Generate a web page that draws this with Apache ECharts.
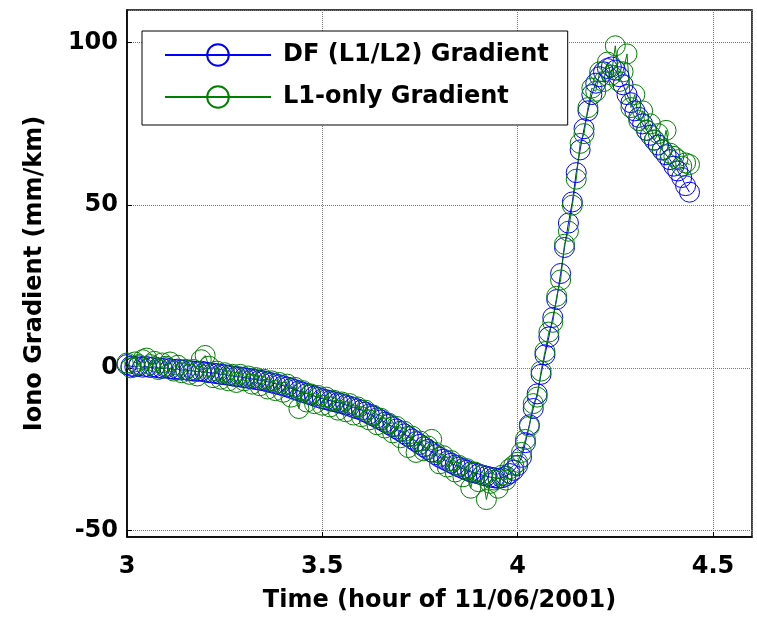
<!DOCTYPE html>
<html>
<head>
<meta charset="utf-8">
<script src="https://cdn.jsdelivr.net/npm/echarts@6/dist/echarts.min.js"></script>
<style>
html,body{margin:0;padding:0;background:#fff;}
#chart{width:757px;height:620px;}
</style>
</head>
<body>
<div id="chart"></div>
<script>
// Time (hour of 11/06/2001)
const times = [
3.00,3.01,3.02,3.03,3.04,3.05,3.06,3.07,3.08,3.09,
3.10,3.11,3.12,3.13,3.14,3.15,3.16,3.17,3.18,3.19,
3.20,3.21,3.22,3.23,3.24,3.25,3.26,3.27,3.28,3.29,
3.30,3.31,3.32,3.33,3.34,3.35,3.36,3.37,3.38,3.39,
3.40,3.41,3.42,3.43,3.44,3.45,3.46,3.47,3.48,3.49,
3.50,3.51,3.52,3.53,3.54,3.55,3.56,3.57,3.58,3.59,
3.60,3.61,3.62,3.63,3.64,3.65,3.66,3.67,3.68,3.69,
3.70,3.71,3.72,3.73,3.74,3.75,3.76,3.77,3.78,3.79,
3.80,3.81,3.82,3.83,3.84,3.85,3.86,3.87,3.88,3.89,
3.90,3.91,3.92,3.93,3.94,3.95,3.96,3.97,3.98,3.99,
4.00,4.01,4.02,4.03,4.04,4.05,4.06,4.07,4.08,4.09,
4.10,4.11,4.12,4.13,4.14,4.15,4.16,4.17,4.18,4.19,
4.20,4.21,4.22,4.23,4.24,4.25,4.26,4.27,4.28,4.29,
4.30,4.31,4.32,4.33,4.34,4.35,4.36,4.37,4.38,4.39,
4.40,4.41,4.42,4.43,4.44
];

// DF (L1/L2) Gradient (mm/km)
const dfGradient = [
1.0,0.5,0.3,0.6,0.2,0.4,0.1,0.3,0.0,-0.2,
0.0,-0.3,-0.5,-0.4,-0.7,-0.6,-0.9,-1.0,-1.1,-1.0,
-1.3,-1.5,-1.6,-1.8,-2.0,-2.1,-2.3,-2.5,-2.7,-2.8,
-3.0,-3.2,-3.4,-3.6,-3.8,-4.0,-4.3,-4.6,-4.9,-5.2,
-5.5,-5.9,-6.3,-6.7,-7.1,-7.5,-7.9,-8.3,-8.7,-9.1,
-9.5,-9.8,-10.1,-10.4,-10.7,-11.0,-11.4,-11.8,-12.2,-12.6,
-13.0,-13.6,-14.2,-14.8,-15.4,-16.0,-16.7,-17.4,-18.1,-18.8,
-19.5,-20.3,-21.1,-21.9,-22.7,-23.5,-24.3,-25.1,-25.9,-26.7,
-27.5,-28.1,-28.7,-29.3,-29.9,-30.5,-31.0,-31.5,-32.0,-32.3,
-32.6,-33.0,-33.3,-33.6,-33.8,-34.0,-33.8,-33.3,-32.5,-31.5,
-30.0,-27.5,-23.0,-17.5,-12.5,-8.0,-2.0,4.0,9.5,15.5,
21.0,29.0,37.0,44.5,51.0,60.0,67.0,73.5,79.0,84.0,
87.5,89.5,91.0,92.0,92.5,91.5,89.5,87.0,84.0,81.5,
79.0,77.0,75.0,73.0,71.5,70.0,68.5,67.0,65.5,64.0,
62.0,60.5,58.5,56.0,54.0
];

// L1-only Gradient (mm/km)
const l1Gradient = [
1.5,0.0,1.8,1.0,2.5,3.0,1.0,2.0,-0.5,1.5,
0.5,1.8,-1.0,0.8,-1.5,-0.5,-2.0,-0.5,-2.5,2.5,
3.8,0.5,-3.0,-1.0,-3.5,-1.5,-4.0,-2.0,-4.5,-2.0,
-4.0,-2.5,-5.0,-3.0,-5.5,-3.5,-6.5,-4.0,-7.0,-4.5,
-7.5,-5.0,-9.0,-6.0,-12.5,-7.0,-10.5,-8.0,-11.0,-8.5,
-11.5,-9.0,-12.0,-10.0,-13.0,-10.5,-13.5,-11.0,-14.5,-12.0,
-15.0,-13.0,-16.0,-14.5,-17.5,-15.5,-18.5,-17.0,-20.0,-18.0,
-21.5,-19.5,-24.5,-21.0,-26.0,-22.5,-25.5,-24.0,-22.0,-26.0,
-29.5,-27.0,-30.5,-28.5,-32.0,-30.0,-33.5,-31.0,-37.0,-32.0,
-35.0,-33.0,-40.5,-35.5,-34.5,-37.0,-33.0,-34.5,-31.0,-30.0,
-29.0,-26.0,-22.0,-18.0,-11.0,-9.0,-1.0,5.0,11.0,14.0,
22.0,27.0,38.0,42.0,50.0,58.0,69.0,72.0,80.0,86.0,
85.0,91.0,88.0,94.0,90.0,99.0,88.0,91.0,96.5,80.0,
84.0,76.0,79.0,73.0,75.0,70.0,72.0,67.0,73.0,66.0,
65.0,64.0,62.0,63.0,62.5
];

const seriesNames = ['DF (L1/L2) Gradient', 'L1-only Gradient'];
const xTitle = 'Time (hour of 11/06/2001)';
const yTitle = 'Iono Gradient (mm/km)';

const FONT = 'DejaVu Sans';
const pairs = (vals) => times.map((t, i) => [t, vals[i]]);

const chart = echarts.init(document.getElementById('chart'), null, {renderer: 'canvas'});

function mkSeries(name, vals, color) {
  return {
    name: name,
    type: 'line',
    data: pairs(vals),
    symbol: 'circle',
    symbolSize: 20,
    showSymbol: true,
    showAllSymbol: true,
    itemStyle: {color: 'rgba(0,0,0,0)', borderColor: color, borderWidth: 1},
    lineStyle: {color: color, width: 1},
    emphasis: {disabled: true},
    clip: true,
    z: 3
  };
}

chart.setOption({
  animation: false,
  backgroundColor: '#fff',
  grid: {
    left: 127, right: 5, top: 10, bottom: 83,
    show: true, borderColor: '#000', borderWidth: 1.5, backgroundColor: '#fff'
  },
  legend: {
    data: seriesNames,
    left: 142, top: 31,
    orient: 'vertical',
    itemWidth: 106, itemHeight: 27, itemGap: 18,
    padding: [12, 19, 16, 22],
    backgroundColor: '#fff',
    borderColor: '#000', borderWidth: 1,
    textStyle: {fontFamily: FONT, fontWeight: 'bold', fontSize: 24, color: '#000', padding: [0, 0, 0, 7]}
  },
  xAxis: {
    type: 'value',
    min: 3, max: 4.6, interval: 0.5,
    name: xTitle,
    nameLocation: 'middle',
    nameGap: 52,
    nameTextStyle: {fontFamily: FONT, fontWeight: 'bold', fontSize: 24, color: '#000'},
    axisLine: {show: true, onZero: false, lineStyle: {color: '#000', width: 1.5}},
    axisTick: {show: true, inside: true, length: 5, lineStyle: {color: '#000'}},
    axisLabel: {fontFamily: FONT, fontWeight: 'bold', fontSize: 24, color: '#000', margin: 18, showMaxLabel: false},
    splitLine: {show: true, lineStyle: {color: '#777', type: 'dotted', width: 1}}
  },
  yAxis: {
    type: 'value',
    min: -52, max: 110,
    splitNumber: 3, minInterval: 50, maxInterval: 50,
    name: yTitle,
    nameLocation: 'middle',
    nameGap: 80,
    nameTextStyle: {fontFamily: FONT, fontWeight: 'bold', fontSize: 24, color: '#000'},
    axisLine: {show: true, onZero: false, lineStyle: {color: '#000', width: 1.5}},
    axisTick: {show: true, inside: true, length: 5, lineStyle: {color: '#000'}},
    axisLabel: {fontFamily: FONT, fontWeight: 'bold', fontSize: 24, color: '#000', margin: 9, showMinLabel: false, showMaxLabel: false},
    splitLine: {show: true, lineStyle: {color: '#777', type: 'dotted', width: 1}}
  },
  series: [
    mkSeries(seriesNames[0], dfGradient, '#0000ff'),
    mkSeries(seriesNames[1], l1Gradient, '#008000')
  ]
});
</script>
</body>
</html>
